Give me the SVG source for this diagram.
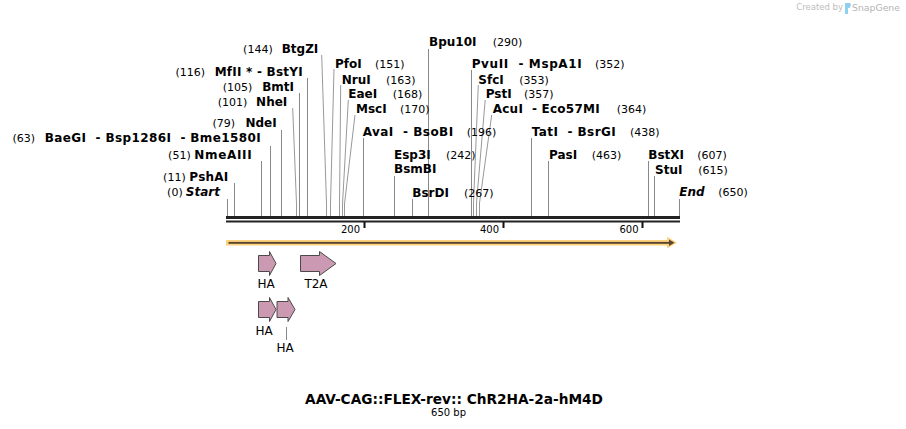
<svg xmlns="http://www.w3.org/2000/svg" width="906" height="429" viewBox="0 0 906 429">
<style>
text{font-family:"DejaVu Sans",Verdana,sans-serif;white-space:pre;fill:#000}
.n{font-size:11px}
.e{font-size:12px;font-weight:bold}
.i{font-size:12px;font-weight:bold;font-style:italic}
.t{font-size:10px}
.f{font-size:12px}
.cut{stroke:#888;stroke-width:1;fill:none}
.slant{stroke:#999;stroke-width:1;fill:none}
.feat{fill:#cc99b3;stroke:#4a4a4a;stroke-width:1}
.wm{font-size:8.5px;fill:#bdbdbd}
.wm2{font-size:9.5px;fill:#b5b5b5}
</style>
<rect width="906" height="429" fill="#fff"/>

<g id="watermark">
<text class="wm" x="843" y="10" text-anchor="end">Created by</text>
<path d="M845 3 L850 3 Q852 5 849.5 8 L848 8 L848 14 L845 14 Z" fill="#8fd0f0"/>
<text class="wm2" x="852" y="11" textLength="48" lengthAdjust="spacingAndGlyphs">SnapGene</text>
</g>

<g id="connectors">
<path class="cut" d="M227.5 199V216 M234.5 183V216 M261.5 161V216 M270.5 146V216 M281.5 130V216 M299.5 93V216 M307.5 78V216 M363.5 138V216 M394.5 176V216 M412.5 199V216 M428.5 49V216 M471.5 70V216 M531.5 138V216 M548.5 161V216 M648.5 161V216 M654.5 176V216 M679.5 199V216"/>
<path class="slant" d="M292.7 108L296.5 204V216 M321.7 55L326.5 204V216 M334 69L330.5 204V216 M340.7 85L339.5 204V216 M348.3 100L342.5 204V216 M355 115L344.5 204V216 M478.3 85L473.5 203V216 M485.2 100L476.5 203V216 M491.7 115L479.5 203V216"/>
</g>

<g id="enzymes">
<text class="n" x="182.7" y="196" text-anchor="end">(0)</text>
<text class="i" x="220" y="196" text-anchor="end">Start</text>
<text class="n" x="185.7" y="180.5" text-anchor="end">(11)</text>
<text class="e" x="228.3" y="180.5" text-anchor="end" textLength="39" lengthAdjust="spacing">PshAI</text>
<text class="n" x="190.7" y="158.5" text-anchor="end">(51)</text>
<text class="e" x="251.7" y="158.5" text-anchor="end" textLength="57.5" lengthAdjust="spacing">NmeAIII</text>
<text class="n" x="35" y="142" text-anchor="end">(63)</text>
<text class="e" x="260.7" y="142" text-anchor="end" textLength="216" lengthAdjust="spacing">BaeGI  - Bsp1286I  - Bme1580I</text>
<text class="n" x="235" y="127" text-anchor="end">(79)</text>
<text class="e" x="276.7" y="127" text-anchor="end">NdeI</text>
<text class="n" x="247.3" y="105.5" text-anchor="end">(101)</text>
<text class="e" x="287.3" y="105.5" text-anchor="end">NheI</text>
<text class="n" x="252.3" y="90.5" text-anchor="end">(105)</text>
<text class="e" x="294" y="90.5" text-anchor="end">BmtI</text>
<text class="n" x="205" y="75.5" text-anchor="end">(116)</text>
<text class="e" x="302.7" y="75.5" text-anchor="end" textLength="88" lengthAdjust="spacing">MfII * - BstYI</text>
<text class="n" x="272.7" y="52.5" text-anchor="end">(144)</text>
<text class="e" x="318.3" y="52.5" text-anchor="end">BtgZI</text>

<text class="e" x="335" y="67.5">PfoI</text>
<text class="n" x="375" y="67.5">(151)</text>
<text class="e" x="341.7" y="83.5">NruI</text>
<text class="n" x="386" y="83.5">(163)</text>
<text class="e" x="348.3" y="98">EaeI</text>
<text class="n" x="392.7" y="98">(168)</text>
<text class="e" x="356" y="113">MscI</text>
<text class="n" x="400" y="113">(170)</text>
<text class="e" x="362.7" y="136" textLength="90.5" lengthAdjust="spacing">AvaI  - BsoBI</text>
<text class="n" x="466.7" y="136">(196)</text>
<text class="e" x="394" y="159">Esp3I</text>
<text class="n" x="446" y="159">(242)</text>
<text class="e" x="394" y="173">BsmBI</text>
<text class="e" x="412.3" y="196.5">BsrDI</text>
<text class="n" x="464" y="196.5">(267)</text>
<text class="e" x="429" y="46">Bpu10I</text>
<text class="n" x="492.7" y="46">(290)</text>
<text class="e" x="471.7" y="67.5" textLength="110" lengthAdjust="spacing">PvuII  - MspA1I</text>
<text class="n" x="595" y="67.5">(352)</text>
<text class="e" x="478.3" y="83.5">SfcI</text>
<text class="n" x="519.3" y="83.5">(353)</text>
<text class="e" x="485.7" y="98">PstI</text>
<text class="n" x="524" y="98">(357)</text>
<text class="e" x="492.7" y="113" textLength="107" lengthAdjust="spacing">AcuI  - Eco57MI</text>
<text class="n" x="616.7" y="113">(364)</text>
<text class="e" x="531.7" y="136" textLength="84" lengthAdjust="spacing">TatI  - BsrGI</text>
<text class="n" x="630" y="136">(438)</text>
<text class="e" x="549" y="158.5">PasI</text>
<text class="n" x="591.7" y="158.5">(463)</text>
<text class="e" x="648.3" y="158.5">BstXI</text>
<text class="n" x="697.3" y="158.5">(607)</text>
<text class="e" x="655" y="173.5">StuI</text>
<text class="n" x="698.3" y="173.5">(615)</text>
<text class="i" x="679.3" y="196">End</text>
<text class="n" x="718.3" y="196">(650)</text>
</g>

<g id="backbone">
<rect x="226" y="216" width="454" height="3" fill="#222"/>
<rect x="226" y="220.5" width="454" height="2" fill="#222"/>
<rect x="363.5" y="222" width="2" height="6" fill="#111"/>
<rect x="502.5" y="222" width="2" height="6" fill="#111"/>
<rect x="641.5" y="222" width="2" height="6" fill="#111"/>
<text class="t" x="360" y="233" text-anchor="end">200</text>
<text class="t" x="499" y="233" text-anchor="end">400</text>
<text class="t" x="638.5" y="233" text-anchor="end">600</text>
</g>

<g id="orf">
<rect x="226" y="240" width="443" height="5.5" fill="#fcd27c"/>
<polygon points="667,236.8 677,242.8 667,248.6" fill="#fcd27c"/>
<rect x="228.5" y="241.9" width="441" height="1.9" fill="#5a4630"/>
<polygon points="669,239.6 674.5,242.8 669,246" fill="#5a4630"/>
</g>

<g id="feature-HA-1">
<polygon class="feat" points="258.5,255.5 269.5,255.5 269.5,251.5 276,263.5 269.5,275.5 269.5,271.5 258.5,271.5"/>
<text class="f" x="266" y="288" text-anchor="middle">HA</text>
</g>
<g id="feature-T2A">
<polygon class="feat" points="300.5,255.5 319.5,255.5 319.5,251.5 336,263.5 319.5,275.5 319.5,271.5 300.5,271.5"/>
<text class="f" x="316" y="288" text-anchor="middle">T2A</text>
</g>
<g id="feature-HA-2">
<polygon class="feat" points="258.5,301.5 269.5,301.5 269.5,297.5 276,309.5 269.5,321.5 269.5,317.5 258.5,317.5"/>
<text class="f" x="264" y="335" text-anchor="middle">HA</text>
</g>
<g id="feature-HA-3">
<polygon class="feat" points="277,301.5 288,301.5 288,297.5 295,309.5 288,321.5 288,317.5 277,317.5"/>
<line x1="286.5" y1="327" x2="286.5" y2="340" stroke="#888" stroke-width="1"/>
<text class="f" x="285" y="352" text-anchor="middle">HA</text>
</g>

<g id="title">
<text x="454" y="403.5" text-anchor="middle" style="font-size:13.7px;font-weight:bold">AAV-CAG::FLEX-rev:: ChR2HA-2a-hM4D</text>
<text class="t" x="448.5" y="415.5" text-anchor="middle">650 bp</text>
</g>
</svg>
